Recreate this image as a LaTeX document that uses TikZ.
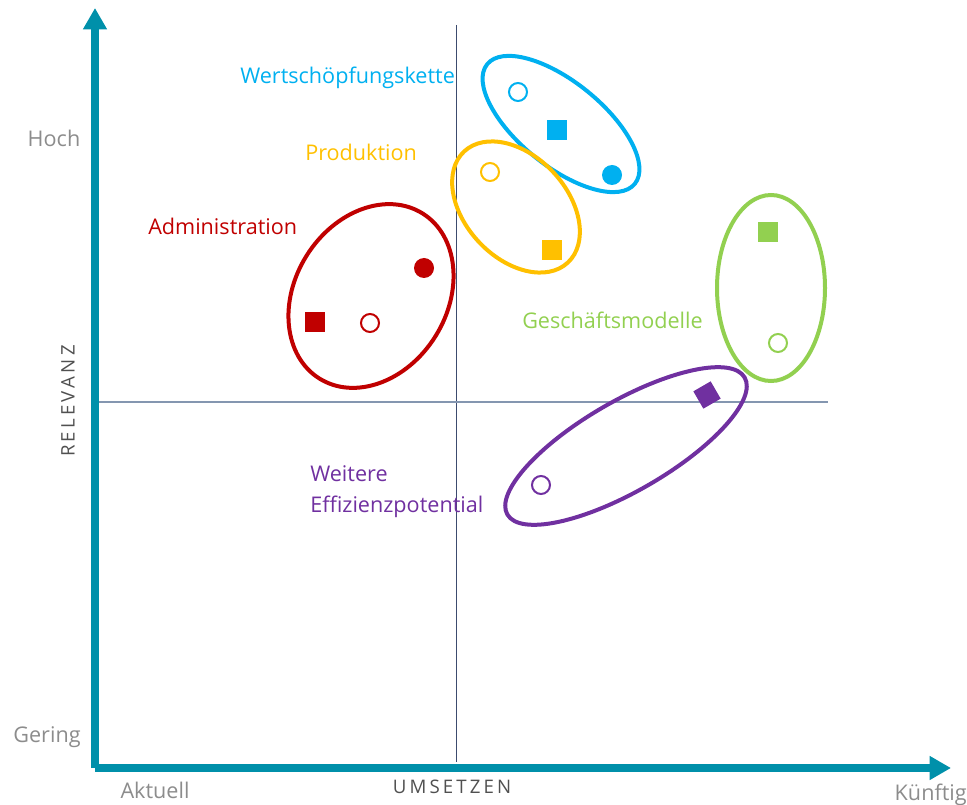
\documentclass[tikz,border=0pt]{standalone}
\usepackage{fontspec}
\setmainfont{Open Sans}
\usetikzlibrary{arrows.meta,shapes.geometric}
\definecolor{axiscol}{HTML}{0090AA}
\definecolor{vline}{HTML}{3C4B6E}
\definecolor{hline}{HTML}{8496B0}
\definecolor{lgray}{HTML}{8C8C8C}
\definecolor{dgray}{HTML}{505050}
\definecolor{cblue}{HTML}{00B0F0}
\definecolor{cyellow}{HTML}{FFC000}
\definecolor{cred}{HTML}{C00000}
\definecolor{cgreen}{HTML}{92D050}
\definecolor{cpurple}{HTML}{7030A0}
\tikzset{
  axisline/.style={draw=axiscol, line width=6pt, -{Triangle[length=16pt,width=17pt]}},
  grp/.style={ellipse, draw=#1, line width=3pt, inner sep=0pt},
  opendot/.style={circle, draw=#1, line width=1.5pt, minimum size=13.5pt, inner sep=0pt},
  fulldot/.style={circle, fill=#1, minimum size=15pt, inner sep=0pt},
  fullsq/.style={rectangle, fill=#1, minimum size=15pt, inner sep=0pt},
  lbl/.style={text=#1, font=\fontsize{16.2pt}{19pt}\selectfont, inner sep=0pt},
  axlbl/.style={text=lgray, font=\fontsize{16.2pt}{19pt}\selectfont, inner sep=0pt},
  axtitle/.style={text=dgray, font=\fontsize{14pt}{17pt}\selectfont, inner sep=0pt}
}
\begin{document}
\begin{tikzpicture}[x=0.75pt,y=-0.75pt]
\useasboundingbox (0,0) rectangle (967,805);
% thin quadrant lines
\coordinate (vt) at (456.5,25);
\coordinate (vb) at (456.5,762);
\coordinate (hl) at (95,402);
\coordinate (hr) at (828,402);
\draw[vline, line width=0.9pt] (vt) -- (vb);
\draw[hline, line width=1.1pt] (hl) -- (hr);
% axes
\coordinate (O) at (95,768);
\coordinate (Ytop) at (95,8);
\coordinate (Xend) at (951,768);
\draw[axisline] (O) -- (Ytop);
\draw[axisline] (O) -- (Xend);
% axis labels
\node[axlbl] (hoch) at (54,138) {Hoch};
\node[axlbl] (gering) at (47,737) {Gering};
\node[axlbl] (aktuell) at (155,790) {Aktuell};
\node[axlbl, anchor=east] (kuenftig) at (967,795) {Künftig};
\node[axtitle, rotate=90] (relevanz) at (68,401) {R\,E\,L\,E\,V\,A\,N\,Z};
\node[axtitle] (umsetzen) at (452,787) {U\,M\,S\,E\,T\,Z\,E\,N};
% group labels
\node[lbl=cblue, anchor=west] (lwert) at (240,78) {Wertschöpfungskette};
\node[lbl=cyellow, anchor=west] (lprod) at (305,152) {Produktion};
\node[lbl=cred, anchor=west] (ladmin) at (148,226) {Administration};
\node[lbl=cgreen, anchor=west] (lgesch) at (522,320) {Geschäftsmodelle};
\node[lbl=cpurple, anchor=north west, align=left, font=\fontsize{16.2pt}{23.5pt}\selectfont] (lweit) at (310,465) {Weitere\\Effizienzpotential};
% ellipses
\node[grp=cblue, minimum width=142.5pt, minimum height=63pt, rotate=-39] (ewert) at (561,124) {};
\node[grp=cyellow, minimum width=114pt, minimum height=76.5pt, rotate=-47] (eprod) at (516,207) {};
\node[grp=cred, minimum width=146pt, minimum height=114pt, rotate=58] (eadmin) at (371,296) {};
\node[grp=cgreen, minimum width=81pt, minimum height=139.5pt] (egesch) at (771,288) {};
\node[grp=cpurple, minimum width=205.5pt, minimum height=67.5pt, rotate=30] (eweit) at (626,446) {};
% markers
\node[opendot=cblue] (w1) at (518,92) {};
\node[fullsq=cblue] (w2) at (557,130) {};
\node[fulldot=cblue] (w3) at (612,175) {};
\node[opendot=cyellow] (p1) at (490,172) {};
\node[fullsq=cyellow] (p2) at (552,250) {};
\node[fullsq=cred] (a1) at (315,322) {};
\node[opendot=cred] (a2) at (370,323) {};
\node[fulldot=cred] (a3) at (424,268) {};
\node[fullsq=cgreen] (g1) at (768,232) {};
\node[opendot=cgreen] (g2) at (778,343) {};
\node[fullsq=cpurple, rotate=30] (f1) at (707,395) {};
\node[opendot=cpurple] (f2) at (541,485) {};
\end{tikzpicture}
\end{document}
